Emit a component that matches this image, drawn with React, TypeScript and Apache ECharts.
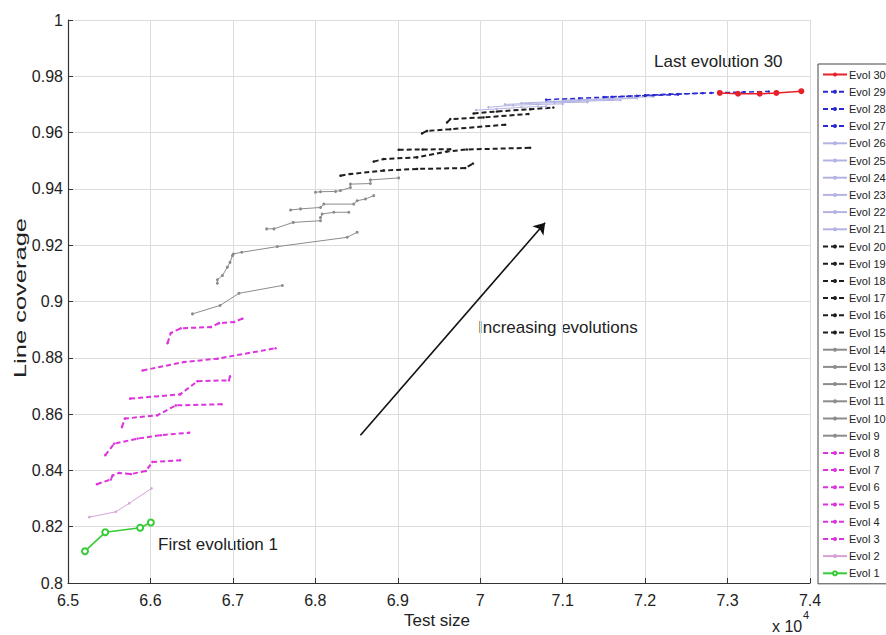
import { useEffect, useRef } from "react";
import * as echarts from "echarts";

// x values in units of 10^4 (test size), y = line coverage
const evol1 = [[6.5206, 0.8113], [6.5452, 0.818], [6.5875, 0.8196], [6.6005, 0.8215]];
const evol2 = [[6.5258, 0.8234], [6.5581, 0.8253], [6.5742, 0.8283], [6.6013, 0.8336]];
const evol3 = [[6.5351, 0.8351], [6.552, 0.8368], [6.5541, 0.8382], [6.5621, 0.8391], [6.5763, 0.8387], [6.5944, 0.8398], [6.6025, 0.843], [6.636, 0.8436]];
const evol4 = [[6.5452, 0.8454], [6.556, 0.8495], [6.5844, 0.8513], [6.6126, 0.8525], [6.6469, 0.8534]];
const evol5 = [[6.5654, 0.8554], [6.569, 0.8584], [6.6086, 0.8596], [6.6308, 0.8631], [6.6864, 0.8635]];
const evol6 = [[6.5754, 0.8655], [6.636, 0.867], [6.657, 0.8717], [6.6953, 0.872], [6.6965, 0.8734]];
const evol7 = [[6.5904, 0.8755], [6.6408, 0.8785], [6.6812, 0.8797], [6.7518, 0.8834]];
const evol8 = [[6.6207, 0.8852], [6.6247, 0.8888], [6.6368, 0.8905], [6.6731, 0.8909], [6.6832, 0.8923], [6.7013, 0.8927], [6.7115, 0.8939]];
const evol9 = [[6.651, 0.8956], [6.6844, 0.8986], [6.7074, 0.9029], [6.76, 0.9057]];
const evol10 = [[6.6812, 0.9065], [6.6812, 0.9077], [6.6873, 0.9092], [6.6933, 0.9122], [6.6965, 0.9139], [6.6994, 0.9163], [6.7006, 0.9169], [6.7107, 0.9175], [6.7539, 0.9195], [6.8386, 0.9228], [6.8507, 0.9246]];
const evol11 = [[6.7409, 0.9258], [6.7498, 0.9258], [6.7732, 0.9281], [6.8063, 0.9287]];
const evol12 = [[6.8063, 0.9298], [6.8083, 0.9311], [6.8224, 0.9317], [6.8406, 0.9317]];
const evol13 = [[6.77, 0.9325], [6.7821, 0.9329], [6.8063, 0.9334], [6.8103, 0.9346], [6.8466, 0.9346], [6.8507, 0.9358], [6.8608, 0.9364], [6.8708, 0.9376]];
const evol14 = [[6.8002, 0.9388], [6.8063, 0.939], [6.8245, 0.9391], [6.8305, 0.9394], [6.8426, 0.9405], [6.8426, 0.9417], [6.8668, 0.9419], [6.8668, 0.9432], [6.9011, 0.9439]];
const evol15 = [[6.8305, 0.9447], [6.8426, 0.9453], [6.8829, 0.9465], [6.9234, 0.9471], [6.9818, 0.9474], [6.9912, 0.949]];
const evol16 = [[6.8708, 0.9497], [6.8829, 0.9506], [6.9234, 0.9512], [6.9597, 0.9533], [6.9839, 0.954], [7.0605, 0.9546]];
const evol17 = [[6.9011, 0.9539], [6.93, 0.954], [6.9637, 0.9541]];
const evol18 = [[6.9294, 0.9597], [6.9355, 0.9606], [6.9637, 0.9612], [7.0303, 0.9628]];
const evol19 = [[6.9597, 0.9636], [6.9637, 0.9648], [7.004, 0.9654], [7.0585, 0.9666]];
const evol20 = [[6.9919, 0.9668], [7.0202, 0.9675], [7.0605, 0.9683], [7.0887, 0.9689]];
const evol21 = [[6.995, 0.968], [7.02, 0.9684], [7.05, 0.969], [7.08, 0.9693]];
const evol22 = [[7.01, 0.969], [7.04, 0.9697], [7.07, 0.97], [7.1, 0.9702]];
const evol23 = [[7.03, 0.97], [7.06, 0.9704], [7.09, 0.9706], [7.13, 0.9708]];
const evol24 = [[7.05, 0.9705], [7.09, 0.971], [7.13, 0.9712], [7.17, 0.9715]];
const evol25 = [[7.08, 0.971], [7.12, 0.9714], [7.16, 0.9718], [7.19, 0.9722]];
const evol26 = [[7.1, 0.9715], [7.14, 0.9719], [7.18, 0.9724], [7.21, 0.9728]];
const evol27 = [[7.08, 0.9717], [7.12, 0.9722], [7.16, 0.9727], [7.2, 0.9731], [7.24, 0.9735]];
const evol28 = [[7.15, 0.9726], [7.19, 0.9731], [7.23, 0.9736], [7.27, 0.974]];
const evol29 = [[7.2, 0.9733], [7.24, 0.9737], [7.28, 0.9741], [7.32, 0.9744], [7.35, 0.9746]];
const evol30 = [[7.2906, 0.9741], [7.3127, 0.9738], [7.339, 0.9738], [7.3592, 0.9741], [7.3895, 0.9747]];

const evolData = [
  evol1, evol2, evol3, evol4, evol5, evol6, evol7, evol8, evol9, evol10,
  evol11, evol12, evol13, evol14, evol15, evol16, evol17, evol18, evol19, evol20,
  evol21, evol22, evol23, evol24, evol25, evol26, evol27, evol28, evol29, evol30,
];
const evolNames = evolData.map((_, i) => `Evol ${i + 1}`);

// arrow annotation (data coords)
const arrowStart = [6.8547, 0.8525];
const arrowEnd = [7.0787, 0.928];

const FONT = "Liberation Sans, Arial, sans-serif";

function styleFor(n: number) {
  if (n === 1) return { color: "#35cc35", type: "solid" as any, width: 1.6, symbol: "emptyCircle", size: 6 };
  if (n === 2) return { color: "#d6a3d6", type: "solid" as any, width: 1, symbol: "circle", size: 2.5 };
  if (n <= 8) return { color: "#dd33dd", type: [5, 3] as any, width: 2, symbol: "circle", size: 2.5 };
  if (n <= 14) return { color: "#8c8c8c", type: "solid" as any, width: 1, symbol: "circle", size: 3 };
  if (n <= 20) return { color: "#1e1e1e", type: [5, 3] as any, width: 2, symbol: "circle", size: 2.5 };
  if (n <= 26) return { color: "#b3b3e3", type: "solid" as any, width: 1, symbol: "circle", size: 2.5 };
  if (n <= 29) return { color: "#2a2ad0", type: [5, 3] as any, width: 1.5, symbol: "circle", size: 2.5 };
  return { color: "#e8202a", type: "solid" as any, width: 1.5, symbol: "circle", size: 6 };
}

export default function App() {
  const ref = useRef<HTMLDivElement>(null);
  useEffect(() => {
    document.body.style.margin = "0";
    const chart = echarts.init(ref.current!, undefined, { renderer: "svg" });
    const series: any[] = evolData.map((d, i) => {
      const s = styleFor(i + 1);
      const item: any = {
        name: evolNames[i],
        type: "line",
        data: d,
        symbol: s.symbol,
        symbolSize: s.size,
        showSymbol: true,
        lineStyle: { color: s.color, width: s.width, type: s.type },
        itemStyle: { color: s.color, borderColor: s.color, borderWidth: s.symbol === "emptyCircle" ? 1.5 : 0 },
        emphasis: { disabled: true },
        z: 2 + i,
      };
      if (i === 0) {
        item.markLine = {
          silent: true,
          symbol: ["none", "arrow"],
          symbolSize: 11,
          label: { show: false },
          lineStyle: { color: "#111", width: 1.6, type: "solid" },
          emphasis: { disabled: true },
          data: [[{ coord: arrowStart }, { coord: arrowEnd }]],
        };
      }
      return item;
    });

    chart.setOption({
      animation: false,
      backgroundColor: "#ffffff",
      textStyle: { fontFamily: FONT },
      grid: { left: 68, right: 76, top: 20, bottom: 52, containLabel: false },
      xAxis: {
        type: "value",
        min: 6.5,
        max: 7.4,
        interval: 0.1,
        axisLine: { show: true, onZero: false, lineStyle: { color: "#333", width: 1.2 } },
        axisTick: { show: true, inside: true, length: 5, lineStyle: { color: "#333" } },
        axisLabel: {
          color: "#222",
          fontSize: 16,
          fontFamily: FONT,
          margin: 9,
          formatter: (v: number) => String(Math.round(v * 10) / 10),
        },
        splitLine: { show: true, lineStyle: { color: "#dcdcdc", width: 1 } },
      },
      yAxis: {
        type: "value",
        min: 0.8,
        max: 1,
        interval: 0.02,
        axisLine: { show: true, onZero: false, lineStyle: { color: "#333", width: 1.2 } },
        axisTick: { show: true, inside: true, length: 5, lineStyle: { color: "#333" } },
        axisLabel: {
          color: "#222",
          fontSize: 16,
          fontFamily: FONT,
          margin: 5,
          formatter: (v: number) => String(Math.round(v * 100) / 100),
        },
        splitLine: { show: true, lineStyle: { color: "#dcdcdc", width: 1 } },
      },
      legend: {
        show: true,
        orient: "vertical",
        left: 818,
        top: 64,
        data: [...evolNames].reverse(),
        itemWidth: 24,
        itemHeight: 5,
        itemGap: 6.2,
        padding: [5, 4, 5, 4],
        borderColor: "#444",
        borderWidth: 1,
        backgroundColor: "#ffffff",
        selectedMode: false,
        textStyle: { fontSize: 11, color: "#222", fontFamily: FONT, padding: [0, 0, 0, -3] },
      },
      graphic: [
        {
          type: "text",
          x: 20,
          y: 298,
          rotation: Math.PI / 2,
          scaleX: 1.5,
          style: { text: "Line coverage", fontSize: 17, fontFamily: FONT, fill: "#222", align: "center", verticalAlign: "middle" },
        },
        {
          type: "text",
          x: 437,
          y: 620,
          style: { text: "Test size", fontSize: 17, fontFamily: FONT, fill: "#222", align: "center", verticalAlign: "middle" },
        },
        {
          type: "text",
          x: 772,
          y: 626,
          style: { text: "x 10", fontSize: 16, fontFamily: FONT, fill: "#222", align: "left", verticalAlign: "middle" },
        },
        {
          type: "text",
          x: 803,
          y: 615,
          style: { text: "4", fontSize: 11, fontFamily: FONT, fill: "#222", align: "left", verticalAlign: "middle" },
        },
        {
          type: "text",
          x: 654,
          y: 61,
          style: { text: "Last evolution 30", fontSize: 17, fontFamily: FONT, fill: "#222", align: "left", verticalAlign: "middle" },
        },
        {
          type: "text",
          x: 478,
          y: 327,
          style: { text: "Increasing evolutions", fontSize: 17, fontFamily: FONT, fill: "#222", align: "left", verticalAlign: "middle" },
        },
        {
          type: "text",
          x: 158,
          y: 544,
          style: { text: "First evolution 1", fontSize: 17, fontFamily: FONT, fill: "#222", align: "left", verticalAlign: "middle" },
        },
      ],
      series,
    });
    return () => chart.dispose();
  }, []);
  return <div ref={ref} style={{ width: 886, height: 635 }} />;
}
